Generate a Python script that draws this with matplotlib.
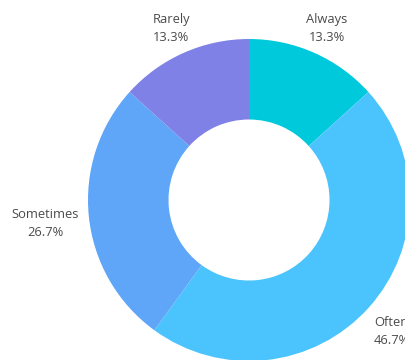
import matplotlib.pyplot as plt

categories = ['Always', 'Often', 'Sometimes', 'Rarely']
percents = [13.3, 46.7, 26.7, 13.3]
colors = ['#00C9DC', '#4BC4FE', '#5FA6F8', '#7F81E6']

fig = plt.figure(figsize=(4.06, 3.6), dpi=100)
ax = fig.add_axes([0, 0, 1, 1])

labels = [f'{c}\n{p:.1f}%' for c, p in zip(categories, percents)]
wedges, texts = ax.pie(percents, colors=colors, startangle=90, counterclock=False,
                       radius=1.0, labels=labels, labeldistance=1.19,
                       wedgeprops=dict(width=0.5, linewidth=0),
                       textprops=dict(fontsize=9.3, color='#4a4a4a',
                                      family=['Open Sans', 'DejaVu Sans'],
                                      linespacing=1.5))
for t in texts:
    t.set_ha('center')
    t.set_va('center')
    x, y = t.get_position()
    t.set_position((x, y - 0.02))
# the left label sits a little further out
x, y = texts[2].get_position()
texts[2].set_position((x - 0.08, y))

# centre of the ring sits at (249, 200) px, radius 161 px
s = 161.0
ax.set_xlim(-249 / s, (406 - 249) / s)
ax.set_ylim(-(360 - 200) / s, 200 / s)
ax.set_aspect('auto')
ax.axis('off')

fig.savefig('out.png', dpi=100)
